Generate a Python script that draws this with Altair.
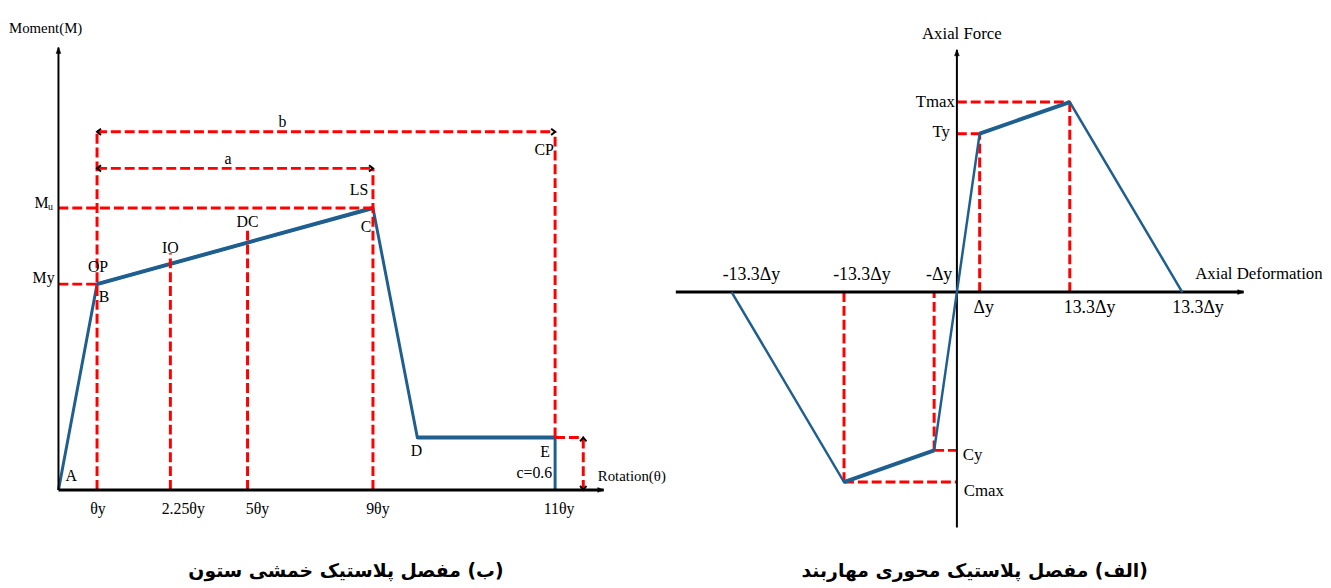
import altair as alt
import pandas as pd

BLUE = "#1f5f8f"
RED = "#ff0000"
BLACK = "#000000"
SERIF = "Liberation Serif"
PERSIAN = "DejaVu Sans"

# ---------------- Left panel: column flexural hinge (schematic units: rotation / θy-like, moment / My)
rotation = [0.0, 1.0, 8.15, 9.3, 12.87, 12.87]
moment = [0.0, 1.0, 1.37, 0.255, 0.255, 0.0]
point_names = ["A", "B", "C", "D", "E"]
level_rot = [1.0, 2.9, 4.9, 8.15, 12.87]
level_names = ["OP", "IO", "DC", "LS", "CP"]
level_top = [1.74, 1.15, 1.27, 1.5625, 1.74]
rot_ticks = ["θy", "2.25θy", "5θy", "9θy", "11θy"]
My_val = 1.0
Mu_val = 1.37
a_level = 1.5625
b_level = 1.74
c_pos = 13.6
c_val = 0.255
rot_axis_end = 14.13
mom_axis_end = 2.15

# ---------------- Right panel: brace axial hinge (schematic units: deformation / Δy, force / Ty)
deformation = [-9.9, -4.96, -1.0, 1.0, 4.96, 9.9]
force = [0.0, -1.2, -1.0, 1.0, 1.2, 0.0]
def_ticks_top = ["-13.3Δy", "-13.3Δy", "-Δy"]
def_ticks_bottom = ["Δy", "13.3Δy", "13.3Δy"]
force_names = ["Cmax", "Cy", "Ty", "Tmax"]
def_axis = [-12.35, 12.6]
force_axis = [-1.4875, 1.53]

captions = ["\u200f(ب) مفصل پلاستیک خمشی ستون\u200f", "\u200f(الف) مفصل پلاستیک محوری مهاربند\u200f"]
axis_titles = ["Moment(M)", "Rotation(θ)", "Axial Force", "Axial Deformation"]

# chevron / arrow shapes (tip at origin)
CHEV_L = "M 1 -0.8 L 0 0 L 1 0.8"
CHEV_R = "M -1 -0.8 L 0 0 L -1 0.8"
CHEV_U = "M -0.8 1 L 0 0 L 0.8 1"
CHEV_D = "M -0.8 -1 L 0 0 L 0.8 -1"
TRI_R = "M 0 0 L -2 -0.8 L -2 0.8 Z"
TRI_U = "M 0 0 L -0.8 2 L 0.8 2 Z"

H = 578
L_YDOM = [-0.4519, 2.3269]
R_YDOM = [-1.8375, 1.775]


class Panel:
    def __init__(self, xdom, ydom):
        self.xs = alt.Scale(domain=xdom, nice=False, zero=False)
        self.ys = alt.Scale(domain=ydom, nice=False, zero=False)
        self.layers = []

    def X(self):
        return alt.X("x:Q", scale=self.xs, axis=None)

    def Y(self):
        return alt.Y("y:Q", scale=self.ys, axis=None)

    def segs(self, segs, **mk):
        df = pd.DataFrame(segs, columns=["x", "y", "x2", "y2"])
        self.layers.append(
            alt.Chart(df).mark_rule(**mk).encode(
                x=self.X(), y=self.Y(), x2="x2:Q", y2="y2:Q"))

    def line(self, xs, ys, **mk):
        df = pd.DataFrame({"x": xs, "y": ys, "i": list(range(len(xs)))})
        self.layers.append(
            alt.Chart(df).mark_line(**mk).encode(
                x=self.X(), y=self.Y(), order="i:Q"))

    def pts(self, xs, ys, shape, filled=False, size=100, sw=2):
        df = pd.DataFrame({"x": xs, "y": ys})
        if filled:
            mk = alt.Chart(df).mark_point(shape=shape, filled=True, fill=BLACK,
                                          stroke=BLACK, strokeWidth=0.5, size=size, opacity=1)
        else:
            mk = alt.Chart(df).mark_point(shape=shape, filled=False, stroke=BLACK,
                                          strokeWidth=sw, size=size, opacity=1)
        self.layers.append(mk.encode(x=self.X(), y=self.Y()))

    def text(self, t, x, y, dx=0, dy=0, size=16, align="center",
             baseline="middle", font=SERIF, weight="normal"):
        df = pd.DataFrame({"x": [x], "y": [y], "t": [t]})
        self.layers.append(
            alt.Chart(df).mark_text(dx=dx, dy=dy, fontSize=size, align=align,
                                    baseline=baseline, font=font, fontWeight=weight,
                                    color=BLACK).encode(x=self.X(), y=self.Y(), text="t:N"))


DASH = dict(color=RED, strokeWidth=3, strokeDash=[10, 4])

# ======================= LEFT =======================
L = Panel([-1.2564, 15.667], L_YDOM)
L.line(rotation, moment, color=BLUE, strokeWidth=3)
L.segs([(rotation[1], moment[1], rotation[2], moment[2]),
        (rotation[3], moment[3], rotation[4], moment[4])], color=BLUE, strokeWidth=4)
L.segs([
    (0, My_val, level_rot[0], My_val),
    (0, Mu_val, level_rot[3], Mu_val),
    (level_rot[0], 0, level_rot[0], b_level),
    (level_rot[1], 0, level_rot[1], level_top[1]),
    (level_rot[2], 0, level_rot[2], level_top[2]),
    (level_rot[3], 0, level_rot[3], a_level),
    (level_rot[4], c_val, level_rot[4], b_level),
    (level_rot[0], a_level, level_rot[3], a_level),
    (level_rot[0], b_level, level_rot[4], b_level),
    (level_rot[4], c_val, c_pos, c_val),
    (c_pos, 0, c_pos, c_val),
], **DASH)
L.segs([(0, 0, 0, mom_axis_end)], color=BLACK, strokeWidth=2)
L.segs([(0, 0, rot_axis_end, 0)], color=BLACK, strokeWidth=3)
L.pts([0], [mom_axis_end], TRI_U, filled=True, size=36)
L.pts([rot_axis_end], [0], TRI_R, filled=True, size=36)
L.pts([level_rot[0], level_rot[0]], [a_level, b_level], CHEV_L, size=64)
L.pts([level_rot[3], level_rot[4]], [a_level, b_level], CHEV_R, size=64)
L.pts([c_pos], [c_val], CHEV_U, size=64)
L.pts([c_pos], [0], CHEV_D, size=64)

# axis titles
L.text(axis_titles[0], 0, mom_axis_end, dx=-13, dy=-20, size=15)
L.text(axis_titles[1], rot_axis_end, 0, dx=-6, dy=-14, size=15, align="left")
# y labels
L.text("My", 0, My_val, dx=-15, dy=-6, size=16)
L.text("M", 0, Mu_val, dx=-17, dy=-5, size=16)
L.text("u", 0, Mu_val, dx=-8, dy=-1, size=10)
# x tick labels
for t, r, d in zip(rot_ticks, level_rot, [1, 13, 10, 5, 4]):
    L.text(t, r, 0, dx=d, dy=19, size=16)
# performance level labels
L.text(level_names[0], level_rot[0], moment[1], dx=1, dy=-17, size=16)
L.text(level_names[1], level_rot[1], level_top[1], dx=0, dy=-5, size=16)
L.text(level_names[2], level_rot[2], level_top[2], dx=0, dy=-7, size=16)
L.text(level_names[3], rotation[2], moment[2], dx=-14, dy=-18, size=16)
L.text(level_names[4], level_rot[4], b_level, dx=-11, dy=18, size=16)
# point labels
L.text(point_names[0], rotation[0], moment[0], dx=13, dy=-14, size=16)
L.text(point_names[1], rotation[1], moment[1], dx=7, dy=13, size=16)
L.text(point_names[2], rotation[2], moment[2], dx=-7, dy=19, size=16)
L.text(point_names[3], rotation[3], moment[3], dx=-1, dy=14, size=16)
L.text(point_names[4], rotation[4], moment[4], dx=-10, dy=15, size=16)
L.text("c=0.6", rotation[5], moment[5], dx=-21, dy=-17, size=16)
L.text("a", (level_rot[0] + level_rot[3]) / 2, a_level, dx=-7, dy=-9, size=16)
L.text("b", (level_rot[0] + level_rot[4]) / 2, b_level, dx=-44, dy=-10, size=16)
L.text(captions[0], rot_axis_end / 2, L_YDOM[0], dx=15, dy=-2, size=19,
       baseline="bottom", font=PERSIAN, weight="bold")

left = alt.layer(*L.layers).properties(width=660, height=H)

# ======================= RIGHT =======================
R = Panel([-12.783, 15.913], R_YDOM)
R.segs([
    (0, force[4], deformation[4], force[4]),
    (deformation[4], 0, deformation[4], force[4]),
    (0, force[3], deformation[3], force[3]),
    (deformation[3], 0, deformation[3], force[3]),
    (deformation[1], force[1], 0, force[1]),
    (deformation[1], force[1], deformation[1], 0),
    (deformation[2], force[2], 0, force[2]),
    (deformation[2], force[2], deformation[2], 0),
], **DASH)
R.segs([(0, force_axis[0], 0, force_axis[1])], color=BLACK, strokeWidth=2)
R.segs([(def_axis[0], 0, def_axis[1], 0)], color=BLACK, strokeWidth=3)
R.line(deformation, force, color=BLUE, strokeWidth=2.5)
R.segs([(deformation[1], force[1], deformation[2], force[2]),
        (deformation[3], force[3], deformation[4], force[4])], color=BLUE, strokeWidth=4)
R.pts([0], [force_axis[1]], TRI_U, filled=True, size=36)
R.pts([def_axis[1]], [0], TRI_R, filled=True, size=36)

R.text(axis_titles[2], 0, force_axis[1], dx=5, dy=-16, size=17)
R.text(axis_titles[3], def_axis[1], 0, dx=-49, dy=-18, size=17, align="left")
for t, d, o in zip(def_ticks_top, deformation[:3], [20, 18, 5]):
    R.text(t, d, 0, dx=o, dy=-17, size=18)
for t, d, o in zip(def_ticks_bottom, deformation[3:], [4, 20, 16]):
    R.text(t, d, 0, dx=o, dy=16, size=18)
R.text(force_names[3], 0, force[4], dx=-2, dy=0, size=17, align="right")
R.text(force_names[2], 0, force[3], dx=-7, dy=-2, size=17, align="right")
R.text(force_names[1], 0, force[2], dx=6, dy=5, size=17, align="left")
R.text(force_names[0], 0, force[1], dx=7, dy=9, size=17, align="left")
R.text(captions[1], 0, R_YDOM[0], dx=18, dy=-2, size=19, baseline="bottom",
       font=PERSIAN, weight="bold")

right = alt.layer(*R.layers).properties(width=660, height=H)

chart = alt.hconcat(left, right, spacing=0).properties(padding=0).configure_view(stroke=None)
chart.save("out.html", embed_options={"renderer": "svg", "actions": False})
